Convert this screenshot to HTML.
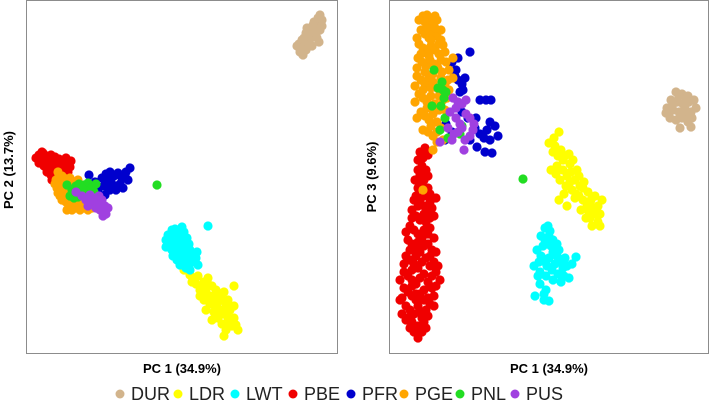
<!DOCTYPE html>
<html><head><meta charset="utf-8">
<style>
html,body{margin:0;padding:0;background:#fff;}
svg{display:block;font-family:"Liberation Sans",sans-serif;}
</style></head>
<body>
<svg id="chart" width="709" height="407" viewBox="0 0 709 407" xmlns="http://www.w3.org/2000/svg">
<rect x="26.5" y="0.5" width="311" height="353" fill="none" stroke="#8c8c8c" stroke-width="1"/>
<rect x="389.5" y="0.5" width="319" height="353" fill="none" stroke="#8c8c8c" stroke-width="1"/>
<g id="p1"></g>
<g id="p2"></g>
<text x="182" y="373" text-anchor="middle" font-size="13" font-weight="bold">PC 1 (34.9%)</text>
<text x="549" y="373" text-anchor="middle" font-size="13" font-weight="bold">PC 1 (34.9%)</text>
<text transform="translate(13,170) rotate(-90)" text-anchor="middle" font-size="13" font-weight="bold">PC 2 (13.7%)</text>
<text transform="translate(376,177) rotate(-90)" text-anchor="middle" font-size="13" font-weight="bold">PC 3 (9.6%)</text>
<g id="legend"></g>
</svg>
<script>
const groups = ["DUR","LDR","LWT","PBE","PFR","PGE","PNL","PUS"];
const colors = {DUR:"#D2B48C",LDR:"#FFFF00",LWT:"#00FFFF",PBE:"#F00000",PFR:"#0000CD",PGE:"#FFA500",PNL:"#22DD22",PUS:"#A040E0"};
const p1DUR = "300,-52 303,-55 306,-50 299,-44 302,-40 305,-45 309,-42 308,-36 311,-38 313,-32 310,-30 315,-28 317,-24 314,-22 318,-18 320,-15 322,-20 316,-34 312,-46 320,-30 307,-28 304,-38 297,-46 319,-42 301,-48 306,-33 313,-25 317,-38 322,-26";
const p1LDR = "184,-270 190,-275 194,-278 198,-276 204,-282 208,-284 212,-286 200,-290 206,-292 210,-296 214,-298 218,-302 222,-300 226,-306 230,-310 234,-318 236,-325 238,-330 226,-330 222,-324 218,-318 214,-312 220,-310 228,-318 232,-326 210,-304 204,-300 200,-296 234,-286 224,-292 196,-284 202,-286 208,-278 216,-290 216,-306 222,-314 228,-300 230,-324 224,-336 234,-306 212,-320 206,-310 192,-282 220,-296 227,-312";
const p1LWT = "168,-235 172,-230 176,-233 180,-230 184,-232 182,-238 178,-240 174,-244 170,-242 166,-247 186,-244 190,-250 188,-256 184,-253 180,-258 176,-252 172,-250 185,-262 192,-262 196,-258 198,-265 190,-270 180,-265 208,-226 170,-237 175,-229 181,-235 187,-238 166,-240 173,-256 179,-248 183,-246 189,-244 194,-254 177,-260 186,-268 197,-252 182,-227";
const p1PBE = "39,-155 43,-153 47,-156 51,-155 55,-157 59,-159 63,-161 67,-164 70,-167 41,-160 45,-162 49,-161 53,-163 57,-165 61,-167 65,-170 44,-166 48,-168 52,-170 56,-172 60,-174 47,-172 51,-175 39,-163 55,-177 63,-174 68,-172 42,-152 50,-158 58,-162 46,-158 54,-168 62,-166 66,-158 71,-161 36,-158 52,-180";
const p1PFR = "89,-175 95,-182 102,-178 106,-174 110,-172 114,-176 118,-173 122,-178 126,-172 130,-168 128,-180 123,-188 112,-184 104,-186 98,-190 116,-190 108,-180 100,-200 120,-184 110,-190 105,-195 125,-176 92,-186";
const p1PGE = "58,-172 62,-176 56,-180 60,-184 64,-180 68,-186 72,-182 57,-188 61,-192 65,-194 69,-198 73,-202 77,-204 81,-206 85,-208 89,-204 60,-196 66,-202 70,-207 75,-208 79,-200 83,-198 86,-202 63,-188 78,-180 74,-190 59,-176 55,-184 62,-200 67,-210 72,-210 80,-210 84,-203 88,-210 92,-208 64,-178 70,-178 58,-193 76,-196";
const p1PNL = "67,-185 72,-190 76,-186 80,-192 84,-185 88,-183 92,-187 96,-184 70,-196 78,-197 86,-191 94,-192 79,-184 157,-185 74,-198 90,-193 82,-188";
const p1PUS = "76,-192 82,-196 86,-200 90,-195 94,-198 98,-202 102,-200 105,-206 108,-208 100,-210 104,-212 94,-204 88,-206 96,-208 103,-216 106,-214 99,-196 92,-200";
const p2DUR = "676,-92 682,-94 688,-96 671,-100 677,-102 683,-104 689,-102 694,-100 667,-108 673,-110 679,-112 685,-114 691,-112 696,-108 670,-118 676,-120 682,-118 688,-122 680,-128 691,-127 685,-106 679,-96 673,-104 686,-100 692,-118 666,-113";
const p2LDR = "559,-132 549,-143 555,-146 561,-150 565,-156 569,-154 573,-160 551,-170 557,-166 563,-170 567,-176 571,-172 575,-180 579,-176 560,-180 566,-186 572,-190 576,-194 580,-186 584,-182 588,-192 583,-200 587,-206 591,-200 595,-196 598,-206 595,-214 590,-218 598,-222 600,-226 559,-200 567,-206 575,-198 554,-138 558,-156 563,-160 556,-174 570,-164 577,-170 583,-188 581,-210 589,-212 594,-208 600,-214 592,-226 586,-218 570,-182 564,-194 579,-196 553,-152 602,-200";
const p2LWT = "545,-228 548,-226 541,-236 545,-240 549,-236 553,-240 557,-244 537,-250 541,-256 545,-262 549,-258 553,-252 557,-256 561,-262 565,-258 576,-257 534,-266 540,-272 546,-276 552,-270 558,-274 564,-276 569,-278 540,-284 546,-290 535,-296 544,-300 549,-301 543,-246 551,-246 559,-250 563,-268 539,-262 547,-266 555,-264 561,-282 553,-280 538,-276 544,-294 567,-266 572,-264 550,-231";
const p2PBE = "425,-148 420,-152 428,-155 418,-160 422,-166 426,-170 420,-175 424,-180 428,-188 418,-188 436,-198 416,-196 420,-200 424,-206 428,-212 432,-208 412,-210 416,-216 420,-220 426,-222 430,-218 410,-226 414,-230 418,-234 422,-238 426,-232 430,-228 408,-240 412,-244 416,-248 420,-252 424,-246 428,-244 432,-250 406,-256 410,-260 414,-264 418,-268 422,-262 426,-258 430,-266 434,-262 404,-272 408,-276 412,-280 416,-284 420,-278 424,-274 428,-282 432,-276 436,-272 404,-288 408,-292 412,-296 416,-300 420,-294 424,-290 428,-298 432,-288 406,-306 410,-310 414,-314 418,-306 422,-318 426,-310 430,-304 412,-322 418,-326 424,-322 410,-328 418,-338 423,-158 418,-170 428,-176 422,-184 415,-180 430,-194 424,-196 418,-206 430,-202 412,-218 424,-214 434,-216 406,-232 418,-242 424,-230 434,-238 410,-250 430,-256 404,-264 416,-256 436,-252 400,-280 412,-270 430,-286 436,-286 402,-298 412,-286 424,-300 434,-296 402,-314 416,-294 420,-312 428,-316 406,-320 414,-332 422,-332 426,-328 434,-306 408,-318 400,-300 438,-266 428,-234 440,-280 414,-200";
const p2PFR = "470,-52 452,-62 458,-58 455,-76 458,-80 462,-84 465,-78 460,-92 480,-100 486,-100 491,-100 462,-112 468,-118 476,-118 490,-122 495,-126 487,-130 484,-138 477,-147 485,-152 492,-153 446,-124 452,-132 445,-140 456,-70 463,-90 475,-128 480,-134 498,-136 470,-140 490,-140";
const p2PGE = "423,-16 427,-15 431,-18 435,-16 425,-22 429,-26 433,-24 437,-20 421,-30 425,-34 429,-38 433,-32 437,-36 441,-40 419,-44 423,-48 427,-52 431,-46 435,-50 439,-54 443,-45 418,-58 422,-62 426,-66 430,-60 434,-64 438,-68 442,-72 446,-62 417,-76 421,-80 425,-84 429,-78 433,-82 437,-88 441,-92 445,-84 449,-90 419,-94 423,-98 427,-102 431,-96 435,-104 439,-110 443,-100 421,-112 425,-116 429,-120 433,-114 437,-122 441,-128 428,-132 433,-136 437,-142 433,-150 423,-190 419,-20 427,-28 435,-28 441,-30 417,-38 431,-40 439,-44 445,-52 421,-54 429,-56 441,-60 449,-70 417,-68 425,-72 433,-74 441,-78 453,-78 415,-86 423,-90 431,-88 439,-96 447,-98 415,-102 427,-108 435,-110 445,-110 417,-118 431,-126 423,-130 437,-132 443,-140 453,-58 448,-80";
const p2PNL = "434,-70 442,-82 443,-90 444,-98 432,-106 441,-106 445,-118 440,-130 448,-138 460,-134 462,-126 523,-179 438,-88 446,-92";
const p2PUS = "453,-98 458,-102 462,-104 466,-100 450,-112 456,-118 460,-124 448,-128 454,-134 462,-128 470,-118 473,-130 470,-136 465,-140 440,-142 464,-150 456,-108 466,-114 458,-132 474,-124 452,-140";

const panel1 = {DUR:p1DUR,LDR:p1LDR,LWT:p1LWT,PBE:p1PBE,PFR:p1PFR,PGE:p1PGE,PNL:p1PNL,PUS:p1PUS};
const panel2 = {DUR:p2DUR,LDR:p2LDR,LWT:p2LWT,PBE:p2PBE,PFR:p2PFR,PGE:p2PGE,PNL:p2PNL,PUS:p2PUS};
const NS = "http://www.w3.org/2000/svg";
function linear(d0,d1,r0,r1){return v => r0 + (v-d0)/(d1-d0)*(r1-r0);}
const x1 = linear(26,337,26,337), y1 = linear(-353,0,353,0);
const x2 = linear(389,708,389,708), y2 = linear(-353,0,353,0);
function parse(s){return s.trim().split(/\s+/).map(p=>p.split(",").map(Number));}
function draw(gid, panel, xs, ys, pname){
  const g = document.getElementById(gid);
  groups.forEach(k=>{
    const grp = document.createElementNS(NS,"g");
    
    
    parse(panel[k]).forEach(([x,y])=>{
      const c = document.createElementNS(NS,"circle");
      
      
      c.setAttribute("cx", xs(x)); c.setAttribute("cy", ys(y));
      c.setAttribute("r", 4.6); c.setAttribute("fill", colors[k]);
      grp.appendChild(c);
    });
    g.appendChild(grp);
  });
}
draw("p1", panel1, x1, y1, "panel-1");
draw("p2", panel2, x2, y2, "panel-2");
const legendX = [120,178,235,293,351,404,460,515];
const lg = document.getElementById("legend");
groups.forEach((k,i)=>{
  const e = document.createElementNS(NS,"g");
  
  
  const c = document.createElementNS(NS,"circle");
  c.setAttribute("cx", legendX[i]); c.setAttribute("cy", 394); c.setAttribute("r", 4.5);
  c.setAttribute("fill", colors[k]);
  const t = document.createElementNS(NS,"text");
  t.setAttribute("x", legendX[i]+11); t.setAttribute("y", 400);
  t.setAttribute("font-size", "18"); t.setAttribute("fill", "#222");
  t.textContent = k;
  e.appendChild(c); e.appendChild(t); lg.appendChild(e);
});
</script>
</body></html>
